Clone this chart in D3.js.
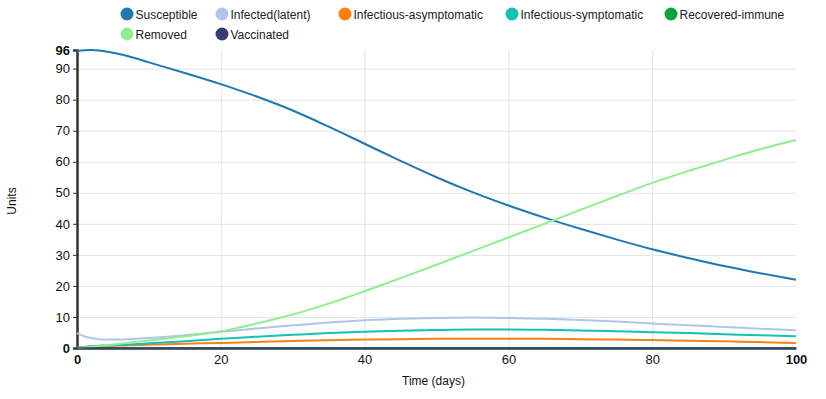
<!DOCTYPE html>
<html>
<head>
<meta charset="utf-8">
<script src="https://cdn.jsdelivr.net/npm/d3@7"></script>
<style>
  body { margin: 0; background: #fff; font-family: "Liberation Sans", Arial, sans-serif; }
  .grid line { stroke: #e3e3e3; stroke-width: 1; }
  .grid path { display: none; }
  .tick text { fill: #111; font-size: 13px; }
  .legend text { font-size: 12px; fill: #222; }
</style>
</head>
<body>
<svg id="chart" width="826" height="399"></svg>
<script>
// --- data ---
const days = [0, 1, 2, 3, 4, 6, 8, 10, 15, 20, 25, 30, 35, 40, 45, 50, 55, 60, 65, 70, 75, 80, 85, 90, 95, 100];

const susceptible = [95.6, 95.95, 96, 95.85, 95.5, 94.6, 93.4, 92.0, 88.6, 85.0, 81.0, 76.5, 71.3, 65.8, 60.3, 55.0, 50.2, 45.9, 42.0, 38.4, 35.0, 31.8, 29.0, 26.4, 24.1, 22.0];
const infectedLatent = [4.8, 3.8, 3.2, 2.85, 2.7, 2.75, 2.95, 3.2, 4.1, 5.2, 6.3, 7.3, 8.2, 8.9, 9.4, 9.7, 9.8, 9.7, 9.4, 9.0, 8.5, 7.9, 7.3, 6.8, 6.2, 5.7];
const infectiousAsym = [0, 0.35, 0.55, 0.65, 0.72, 0.82, 0.92, 1.05, 1.35, 1.65, 1.95, 2.25, 2.5, 2.7, 2.85, 2.95, 3.0, 3.0, 2.95, 2.85, 2.7, 2.55, 2.35, 2.15, 1.9, 1.6];
const infectiousSymp = [0, 0.35, 0.55, 0.7, 0.8, 1.0, 1.2, 1.5, 2.2, 2.95, 3.65, 4.25, 4.8, 5.2, 5.55, 5.8, 5.95, 5.95, 5.85, 5.65, 5.4, 5.1, 4.8, 4.45, 4.1, 3.8];
const recoveredImmune = [0, 0, 0, 0, 0, 0, 0, 0, 0, 0, 0, 0, 0, 0, 0, 0, 0, 0, 0, 0, 0, 0, 0, 0, 0, 0];
const removed = [0, 0.2, 0.4, 0.65, 0.9, 1.4, 1.9, 2.4, 3.8, 5.3, 7.9, 10.8, 14.3, 18.3, 22.5, 26.8, 31.2, 35.6, 40.0, 44.5, 48.9, 53.2, 57.0, 60.6, 64.0, 67.0];
const vaccinated = [0, 0, 0, 0, 0, 0, 0, 0, 0, 0, 0, 0, 0, 0, 0, 0, 0, 0, 0, 0, 0, 0, 0, 0, 0, 0];

const seriesNames = ["Susceptible", "Infected(latent)", "Infectious-asymptomatic", "Infectious-symptomatic", "Recovered-immune", "Removed", "Vaccinated"];
const seriesValues = [susceptible, infectedLatent, infectiousAsym, infectiousSymp, recoveredImmune, removed, vaccinated];
const seriesColors = ["#1f77b4", "#aec7e8", "#ff7f0e", "#12c2b4", "#0aa33c", "#90ee90", "#393b79"];

const xTicks = [0, 20, 40, 60, 80, 100];
const yTicks = [0, 10, 20, 30, 40, 50, 60, 70, 80, 90, 96];

// --- layout ---
const margin = { top: 50, right: 30, bottom: 51, left: 77 };
const width = 826, height = 399;
const innerW = 719, innerH = height - margin.top - margin.bottom;

// legend placement (two rows)
const legendPos = [[127, 14], [222, 14], [345, 14], [512, 14], [671, 14], [127, 34], [222, 34]];

const svg = d3.select("#chart");
const g = svg.append("g").attr("transform", `translate(${margin.left},${margin.top})`);

const x = d3.scaleLinear().domain([0, 100]).range([0, innerW]);
const y = d3.scaleLinear().domain([0, 96]).range([innerH, 0]);

// grid
g.append("g").attr("class", "grid")
  .call(d3.axisLeft(y).tickValues(yTicks.filter(d => d > 0 && d < 96)).tickSize(-innerW).tickFormat(""));
g.append("g").attr("class", "grid")
  .attr("transform", `translate(0,${innerH})`)
  .call(d3.axisBottom(x).tickValues(xTicks.filter(d => d > 0 && d < 100)).tickSize(innerH).tickFormat(""))
  .selectAll("line").attr("y2", -innerH);

// axes
const yAxis = g.append("g")
  .call(d3.axisLeft(y).tickValues(yTicks).tickSize(4).tickPadding(3).tickFormat(d3.format("d")));
yAxis.select(".domain").attr("stroke", "#333").attr("stroke-width", 2.5);
yAxis.selectAll(".tick line").attr("stroke", "#333");
yAxis.selectAll(".tick text").style("font-weight", d => (d === 0 || d === 96) ? "bold" : "normal");

const xAxis = g.append("g").attr("transform", `translate(0,${innerH})`)
  .call(d3.axisBottom(x).tickValues(xTicks).tickSize(0).tickPadding(7));
xAxis.select(".domain").attr("stroke", "#333").attr("stroke-width", 2.5);
xAxis.selectAll(".tick text").style("font-weight", d => (d === 0 || d === 100) ? "bold" : "normal");

// lines
const line = d3.line()
  .x((d, i) => x(days[i]))
  .y(d => y(d))
  .curve(d3.curveMonotoneX);

seriesValues.forEach((vals, k) => {
  g.append("path")
    .datum(vals)
    .attr("fill", "none")
    .attr("stroke", seriesColors[k])
    .attr("stroke-width", 2)
    .attr("stroke-opacity", (k === 4 || k === 6) ? 0.75 : 1)
    .attr("d", line);
});

// axis titles
svg.append("text")
  .attr("x", margin.left + innerW / 2 - 3)
  .attr("y", 385)
  .attr("text-anchor", "middle")
  .style("font-size", "12px").attr("fill", "#111")
  .text("Time (days)");

svg.append("text")
  .attr("transform", `translate(16,${margin.top + innerH / 2 + 2}) rotate(-90)`)
  .attr("text-anchor", "middle")
  .style("font-size", "12px").attr("fill", "#111")
  .text("Units");

// legend
const legend = svg.append("g").attr("class", "legend");
seriesNames.forEach((name, k) => {
  const [lx, ly] = legendPos[k];
  legend.append("circle").attr("cx", lx).attr("cy", ly).attr("r", 6.5).attr("fill", seriesColors[k]);
  legend.append("text").attr("x", lx + 8.5).attr("y", ly + 4.5).text(name);
});
</script>
</body>
</html>
